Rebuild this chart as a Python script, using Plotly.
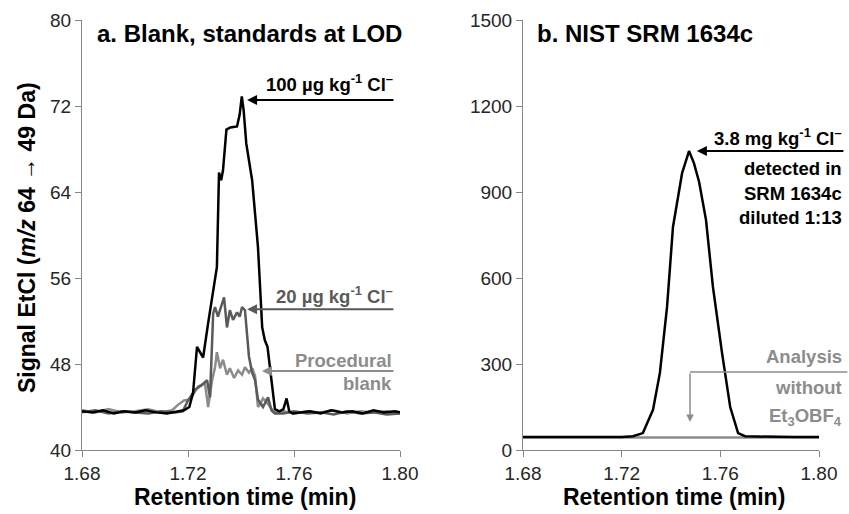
import plotly.graph_objects as go

# ---------------- data ----------------
# Panel a: blank and standards at LOD
t_100 = [1.680, 1.684, 1.688, 1.692, 1.696, 1.700, 1.704, 1.708, 1.712, 1.716,
         1.7185, 1.7205, 1.7219, 1.7234, 1.7245, 1.7257, 1.7276, 1.7295, 1.7309,
         1.7317, 1.7325, 1.7332, 1.7345, 1.7360, 1.7385, 1.7395, 1.7403, 1.7410,
         1.7420, 1.7442, 1.7464, 1.7480, 1.7490, 1.7500, 1.7510, 1.7517, 1.7528,
         1.7545, 1.7560, 1.7572, 1.7582, 1.7595, 1.762, 1.766, 1.770, 1.774, 1.778,
         1.782, 1.786, 1.790, 1.794, 1.798, 1.800]
v_100 = [43.6, 43.5, 43.7, 43.4, 43.6, 43.5, 43.7, 43.5, 43.4, 43.6,
         43.7, 44.0, 45.3, 49.6, 49.1, 48.6, 51.8, 54.6, 57.0,
         65.8, 65.1, 66.0, 69.8, 70.0, 70.1, 71.2, 72.9, 71.6,
         68.5, 65.1, 58.9, 51.4, 50.2, 49.6, 47.4, 45.6, 43.8,
         43.6, 43.8, 44.8, 43.6, 43.4, 43.5, 43.6, 43.4, 43.7, 43.5,
         43.6, 43.4, 43.7, 43.5, 43.6, 43.5]

t_20 = [1.680, 1.685, 1.690, 1.695, 1.700, 1.705, 1.710, 1.715, 1.718, 1.7200,
        1.7226, 1.7250, 1.7272, 1.7283, 1.7295, 1.7302, 1.7313, 1.7321, 1.7336,
        1.7347, 1.7358, 1.7370, 1.7385, 1.7395, 1.7404, 1.7415, 1.7430, 1.7442,
        1.7453, 1.7464, 1.7483, 1.7502, 1.7515, 1.7528, 1.756, 1.760, 1.765,
        1.770, 1.775, 1.780, 1.785, 1.790, 1.795, 1.800]
v_20 = [43.5, 43.7, 43.4, 43.6, 43.5, 43.4, 43.6, 43.5, 43.6, 44.6,
        45.6, 46.0, 46.5, 44.9, 52.7, 53.3, 52.4, 53.0, 54.2,
        51.4, 53.0, 52.1, 52.8, 52.4, 53.3, 53.0, 48.7, 47.2,
        46.5, 44.7, 44.0, 44.9, 43.7, 43.4, 43.4, 43.6, 43.4,
        43.5, 43.3, 43.6, 43.4, 43.5, 43.3, 43.4]

t_blank = [1.680, 1.685, 1.690, 1.695, 1.700, 1.705, 1.710, 1.714, 1.7162,
           1.7185, 1.7208, 1.7238, 1.7264, 1.7276, 1.7291, 1.7302, 1.7309,
           1.7321, 1.7332, 1.7347, 1.7358, 1.7374, 1.7389, 1.7404, 1.7415,
           1.7430, 1.7442, 1.7453, 1.7464, 1.7473, 1.7483, 1.7495, 1.7510,
           1.7525, 1.756, 1.760, 1.765, 1.770, 1.775, 1.780, 1.785, 1.790,
           1.795, 1.800]
v_blank = [43.7, 43.5, 43.8, 43.5, 43.6, 43.8, 43.5, 43.7, 44.2,
           44.6, 44.7, 45.9, 46.2, 44.0, 46.5, 47.7, 49.1,
           47.6, 48.4, 47.0, 47.6, 46.7, 47.4, 47.0, 47.7,
           47.2, 47.6, 46.9, 44.0, 44.3, 44.8, 44.5, 44.0,
           43.5, 43.6, 43.4, 43.6, 43.5, 43.7, 43.4, 43.6, 43.5,
           43.6, 43.4]

# Panel b: NIST SRM 1634c
t_srm = [1.680, 1.690, 1.700, 1.710, 1.720, 1.7246, 1.7286, 1.7327, 1.7355,
         1.7384, 1.7408, 1.7445, 1.7473, 1.7493, 1.7514, 1.7542, 1.7570,
         1.7607, 1.7640, 1.7672, 1.7700, 1.7750, 1.7800, 1.7900, 1.8000]
v_srm = [45, 45, 45, 45, 45, 48, 59, 140, 269,
         499, 778, 966, 1043, 1001, 935, 802, 569,
         338, 150, 59, 48, 47, 46, 45, 45]

t_noreag = [1.680, 1.700, 1.720, 1.740, 1.760, 1.780, 1.800]
v_noreag = [44, 44, 44, 44, 44, 44, 44]

xticks = [1.68, 1.72, 1.76, 1.80]
xticklabels = ["1.68", "1.72", "1.76", "1.80"]
yticks_a = [40, 48, 56, 64, 72, 80]
yticks_b = [0, 300, 600, 900, 1200, 1500]

# ---------------- styling ----------------
W, H = 849, 514
FONT = "Liberation Sans, Arial, sans-serif"
BLACK = "#000000"
DARK = "#5a5a5a"
LIGHT = "#8c8c8c"
AXIS = "#868686"
LBL = 18.5


def px(x):
    return x / W


def py(y):
    return 1 - y / H


fig = go.Figure()
fig.add_trace(go.Scatter(x=t_blank, y=v_blank, mode="lines", line=dict(color=LIGHT, width=2.5),
                         xaxis="x", yaxis="y", showlegend=False))
fig.add_trace(go.Scatter(x=t_20, y=v_20, mode="lines", line=dict(color=DARK, width=2.5),
                         xaxis="x", yaxis="y", showlegend=False))
fig.add_trace(go.Scatter(x=t_100, y=v_100, mode="lines", line=dict(color=BLACK, width=2.5),
                         xaxis="x", yaxis="y", showlegend=False))
fig.add_trace(go.Scatter(x=t_noreag, y=v_noreag, mode="lines", line=dict(color=LIGHT, width=2.5),
                         xaxis="x2", yaxis="y2", showlegend=False))
fig.add_trace(go.Scatter(x=t_srm, y=v_srm, mode="lines", line=dict(color=BLACK, width=2.5),
                         xaxis="x2", yaxis="y2", showlegend=False))

axis_common = dict(showgrid=False, zeroline=False, showline=True, linecolor=AXIS, linewidth=1,
                   ticks="outside", ticklen=6, tickcolor=AXIS, tickwidth=1, automargin=False,
                   tickfont=dict(family=FONT, size=19, color="#262626"))

fig.update_layout(
    width=W, height=H, margin=dict(l=0, r=0, t=0, b=0, pad=0, autoexpand=False),
    paper_bgcolor="white", plot_bgcolor="white",
    xaxis=dict(domain=[px(82), px(400)], range=[1.68, 1.80], tickvals=xticks, ticktext=xticklabels,
               anchor="y", **axis_common),
    yaxis=dict(domain=[py(450), py(20)], range=[40, 80], tickvals=yticks_a, anchor="x", **axis_common),
    xaxis2=dict(domain=[px(523), px(819)], range=[1.68, 1.80], tickvals=xticks, ticktext=xticklabels,
                anchor="y2", **axis_common),
    yaxis2=dict(domain=[py(450), py(20)], range=[0, 1500], tickvals=yticks_b, anchor="x2", **axis_common),
)

ann = []
bold = dict(family=FONT, size=LBL, color=BLACK)

# titles
ann.append(dict(text="<b>a. Blank, standards at LOD</b>", xref="paper", yref="paper", x=px(95), y=py(33),
                xanchor="left", yanchor="middle", showarrow=False, font=dict(family=FONT, size=24, color=BLACK)))
ann.append(dict(text="<b>b. NIST SRM 1634c</b>", xref="paper", yref="paper", x=px(535), y=py(33),
                xanchor="left", yanchor="middle", showarrow=False, font=dict(family=FONT, size=24, color=BLACK)))
# axis titles
ann.append(dict(text="<b>Signal EtCl (<i>m/z</i> 64 → 49 Da)</b>", xref="paper", yref="paper", x=px(27), y=py(238),
                xanchor="center", yanchor="middle", textangle=-90, showarrow=False,
                font=dict(family=FONT, size=23, color=BLACK)))
for cx in (245, 674):
    ann.append(dict(text="<b>Retention time (min)</b>", xref="paper", yref="paper", x=px(cx), y=py(497),
                    xanchor="center", yanchor="middle", showarrow=False,
                    font=dict(family=FONT, size=23, color=BLACK)))

# panel a labels
ann.append(dict(text="<b>100 µg kg<sup>-1</sup> Cl<sup>–</sup></b>", xref="paper", yref="paper", x=px(395), y=py(83),
                xanchor="right", yanchor="middle", showarrow=False, font=bold))
ann.append(dict(text="<b>20 µg kg<sup>-1</sup> Cl<sup>–</sup></b>", xref="paper", yref="paper", x=px(395), y=py(295),
                xanchor="right", yanchor="middle", showarrow=False, font=dict(family=FONT, size=LBL, color=DARK)))
ann.append(dict(text="<b>Procedural</b>", xref="paper", yref="paper", x=px(394), y=py(360),
                xanchor="right", yanchor="middle", showarrow=False, font=dict(family=FONT, size=LBL, color=LIGHT)))
ann.append(dict(text="<b>blank</b>", xref="paper", yref="paper", x=px(394), y=py(383),
                xanchor="right", yanchor="middle", showarrow=False, font=dict(family=FONT, size=LBL, color=LIGHT)))

# panel a arrows
for (xt, yt, col) in [(1.7423, 72.56, BLACK), (1.7423, 53.1, DARK), (1.7479, 47.35, LIGHT)]:
    ann.append(dict(text="", x=xt, y=yt, xref="x", yref="y", ax=1.7981, ay=yt, axref="x", ayref="y",
                    showarrow=True, arrowhead=2, arrowsize=1, arrowwidth=2, arrowcolor=col, standoff=0))

# panel b labels
ann.append(dict(text="<b>3.8 mg kg<sup>-1</sup> Cl<sup>–</sup></b>", xref="paper", yref="paper", x=px(844), y=py(137),
                xanchor="right", yanchor="middle", showarrow=False, font=bold))
for yy, tx in [(169, "detected in"), (193, "SRM 1634c"), (217, "diluted 1:13")]:
    ann.append(dict(text=f"<b>{tx}</b>", xref="paper", yref="paper", x=px(844), y=py(yy),
                    xanchor="right", yanchor="middle", showarrow=False, font=bold))
for yy, tx in [(356, "Analysis"), (387, "without"), (417, "Et<sub>3</sub>OBF<sub>4</sub>")]:
    ann.append(dict(text=f"<b>{tx}</b>", xref="paper", yref="paper", x=px(844), y=py(yy),
                    xanchor="right", yanchor="middle", showarrow=False,
                    font=dict(family=FONT, size=LBL, color=LIGHT)))

# panel b arrows
ann.append(dict(text="", x=1.7505, y=1043, xref="x2", yref="y2", ax=1.8105, ay=1043, axref="x2", ayref="y2",
                showarrow=True, arrowhead=2, arrowsize=1, arrowwidth=2, arrowcolor=BLACK, standoff=0))
ann.append(dict(text="", x=1.7477, y=272, xref="x2", yref="y2", ax=1.8121, ay=272, axref="x2", ayref="y2",
                showarrow=True, arrowhead=0, arrowwidth=1.5, arrowcolor=LIGHT, standoff=0))
ann.append(dict(text="", x=1.7477, y=98, xref="x2", yref="y2", ax=1.7477, ay=272, axref="x2", ayref="y2",
                showarrow=True, arrowhead=2, arrowsize=1, arrowwidth=1.5, arrowcolor=LIGHT, standoff=0))

fig.update_layout(annotations=ann)
fig.write_html("out.html", config={"displayModeBar": False},
               post_script="document.body.style.margin='0';document.body.style.padding='0';")
